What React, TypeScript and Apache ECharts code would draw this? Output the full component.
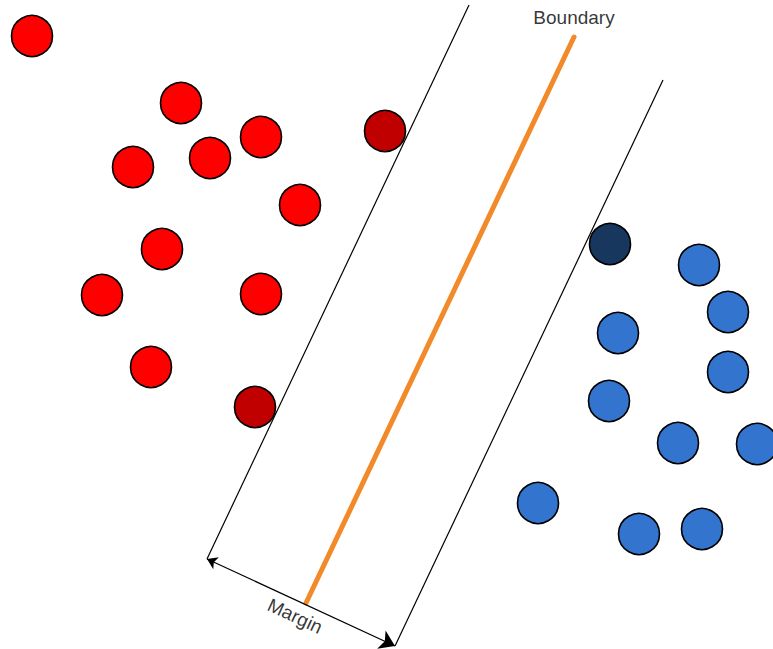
import React, { useEffect, useRef } from "react";
import * as echarts from "echarts";

const W = 773;
const H = 649;

// Class A (red) points
const redPoints: number[][] = [
  [32, 36], [181, 103], [261, 137], [133, 167], [210, 158],
  [300, 205], [162, 249], [102, 295], [261, 294], [151, 367],
];
// Class A support vectors
const redSupport: number[][] = [[385, 131], [255, 407]];
// Class B (blue) points
const bluePoints: number[][] = [
  [699, 265], [728, 312], [618, 333], [728, 372], [609, 401],
  [678, 443], [757, 444], [538, 503], [639, 534], [702, 529],
];
// Class B support vectors
const blueSupport: number[][] = [[610, 244]];

// Lines: margins, boundary, margin arrow
const marginLeft: number[][] = [[469, 5], [207, 559]];
const marginRight: number[][] = [[663, 80], [395, 646]];
const boundaryLine: number[][] = [[574, 37], [306, 603]];
const marginArrow: number[][] = [[207, 559], [395, 646]];

// Labels
const labelBoundary = { text: "Boundary", pos: [574, 17] };
const labelMargin = { text: "Margin", pos: [295, 616] };

export default function App() {
  const ref = useRef<HTMLDivElement>(null);
  useEffect(() => {
    if (!ref.current) return;
    const chart = echarts.init(ref.current, undefined, { renderer: "svg" });
    const circleStyle = (color: string) => ({
      color,
      borderColor: "#000",
      borderWidth: 1.6,
      opacity: 1,
    });
    const scatter = (data: number[][], color: string) => ({
      type: "scatter",
      data,
      symbol: "circle",
      symbolSize: 41,
      itemStyle: circleStyle(color),
      clip: false,
      z: 2,
      silent: true,
    });
    const arrowAngle =
      (Math.atan2(marginArrow[1][1] - marginArrow[0][1], marginArrow[1][0] - marginArrow[0][0]) * 180) /
      Math.PI;
    const textStyle = {
      show: true,
      position: "inside",
      color: "#000",
      fontSize: 19,
      fontFamily: "Liberation Sans, Arial, sans-serif",
    };
    chart.setOption({
      animation: false,
      grid: { left: 0, right: 0, top: 0, bottom: 0 },
      xAxis: { type: "value", min: 0, max: W, show: false },
      yAxis: { type: "value", min: 0, max: H, inverse: true, show: false },
      series: [
        scatter(redPoints, "#FF0000"),
        scatter(redSupport, "#C00000"),
        scatter(bluePoints, "#3375CE"),
        scatter(blueSupport, "#17375E"),
        {
          type: "lines",
          coordinateSystem: "cartesian2d",
          z: 3,
          silent: true,
          symbol: "none",
          lineStyle: { color: "#000", width: 1.2, opacity: 1 },
          data: [{ coords: marginLeft }, { coords: marginRight }],
        },
        {
          type: "lines",
          coordinateSystem: "cartesian2d",
          z: 3,
          silent: true,
          symbol: "none",
          lineStyle: { color: "#F28A2A", width: 5, opacity: 1, cap: "round" },
          data: [{ coords: boundaryLine }],
        },
        {
          type: "lines",
          coordinateSystem: "cartesian2d",
          z: 4,
          silent: true,
          symbol: ["arrow", "arrow"],
          symbolSize: [10, 15],
          lineStyle: { color: "#000", width: 1.2, opacity: 1 },
          data: [{ coords: marginArrow }],
        },
        {
          type: "scatter",
          symbolSize: 0,
          silent: true,
          z: 5,
          data: [
            {
              value: labelBoundary.pos,
              label: { ...textStyle, formatter: labelBoundary.text },
            },
            {
              value: labelMargin.pos,
              label: { ...textStyle, formatter: labelMargin.text, rotate: -arrowAngle },
            },
          ],
        },
      ],
    });
    return () => chart.dispose();
  }, []);
  return (
    <div
      ref={ref}
      style={{ position: "absolute", left: 0, top: 0, width: W, height: H, background: "#fff" }}
    />
  );
}
